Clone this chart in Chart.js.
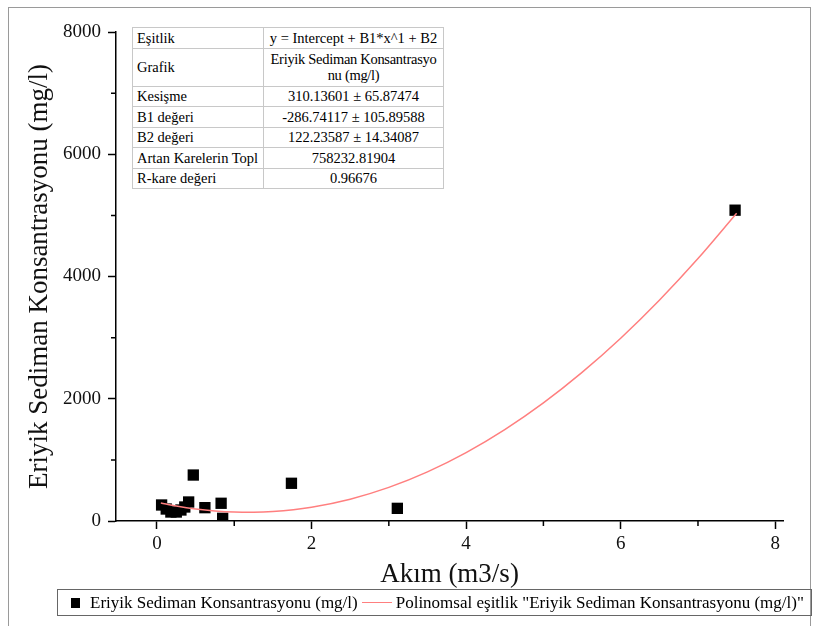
<!DOCTYPE html>
<html>
<head>
<meta charset="utf-8">
<script src="https://cdn.jsdelivr.net/npm/chart.js@4.4.1/dist/chart.umd.min.js"></script>
<style>
  html, body { margin: 0; padding: 0; background: #fff; }
  #wrap { position: relative; width: 814px; height: 626px; overflow: hidden; }
  #frame { position: absolute; left: 8px; top: 7px; width: 803px; height: 640px; border: 1px solid #9a9a9a; box-sizing: border-box; }
  #c { position: absolute; left: 0; top: 0; }
  #stats { position: absolute; left: 132px; top: 27px; border-collapse: collapse; border: 1px solid #8a8a8a;
    background: #fff; table-layout: fixed; width: 312px; }
  #stats td { font-family: "Times New Roman", "Liberation Serif", serif; font-size: 14.5px; color: #000;
    border: 1px solid #c8c8c8; padding: 0 4px; height: 19.5px; line-height: 16px; white-space: nowrap; }
  #stats td:first-child { width: 122px; text-align: left; }
  #stats td:last-child { text-align: center; }
  #legend { position: absolute; left: 57px; top: 589px; width: 755px; height: 27px; box-sizing: border-box;
    border: 1px solid #666; font-family: "Times New Roman", "Liberation Serif", serif; font-size: 17px; color: #000;
    display: flex; align-items: center; white-space: nowrap; }
  #legend .sq { display: inline-block; width: 9px; height: 10px; background: #000; margin: 0 10px 0 13px; }
  #legend .ln { display: inline-block; width: 30px; height: 0; border-top: 1.5px solid #ff7f7f; margin: 0 4px 0 4px; }
</style>
</head>
<body>
<div id="wrap">
  <div id="frame"></div>
  <canvas id="c" width="814" height="626"></canvas>
  <table id="stats">
    <tr><td>Eşitlik</td><td>y = Intercept + B1*x^1 + B2</td></tr>
    <tr><td style="height:37px">Grafik</td><td style="letter-spacing:-0.3px">Eriyik Sediman Konsantrasyo<br>nu (mg/l)</td></tr>
    <tr><td>Kesişme</td><td>310.13601 ± 65.87474</td></tr>
    <tr><td>B1 değeri</td><td>-286.74117 ± 105.89588</td></tr>
    <tr><td>B2 değeri</td><td>122.23587 ± 14.34087</td></tr>
    <tr><td>Artan Karelerin Topl</td><td>758232.81904</td></tr>
    <tr><td>R-kare değeri</td><td>0.96676</td></tr>
  </table>
  <div id="legend">
    <span class="sq"></span><span>Eriyik Sediman Konsantrasyonu (mg/l)</span><span class="ln"></span><span>Polinomsal eşitlik "Eriyik Sediman Konsantrasyonu (mg/l)"</span>
  </div>
</div>
<script>
// olculen noktalar
const flowX = [0.06, 0.12, 0.18, 0.25, 0.31, 0.36, 0.41, 0.47, 0.62, 0.83, 0.85, 1.74, 3.11, 7.48];
const sedimentY = [262, 196, 147, 147, 180, 229, 311, 752, 218, 290, 44, 617, 207, 5085];

// polinom egrisi
const fitX = [0.05, 0.25, 0.5, 0.75, 1, 1.25, 1.5, 2, 2.5, 3, 3.5, 4, 4.5, 5, 5.5, 6, 6.5, 7, 7.5];
const fitY = [296, 246, 197, 164, 146, 143, 155, 226, 357, 550, 804, 1119, 1495, 1932, 2431, 2990, 3611, 4293, 5035];

const xTicks = [0, 2, 4, 6, 8];
const xMinor = [1, 3, 5, 7];
const yTicks = [0, 2000, 4000, 6000, 8000];
const yMinor = [1000, 3000, 5000, 7000];

const points = flowX.map((x, i) => ({ x: x, y: sedimentY[i] }));
const curve = fitX.map((x, i) => ({ x: x, y: fitY[i] }));

const minorTicks = {
  id: 'minorTicks',
  afterDraw(chart) {
    const c = chart.ctx, xs = chart.scales.x, ys = chart.scales.y;
    c.save();
    c.strokeStyle = '#000';
    c.lineWidth = 1.5;
    c.beginPath();
    xMinor.forEach(v => { const p = xs.getPixelForValue(v); c.moveTo(p, xs.top); c.lineTo(p, xs.top + 5); });
    yMinor.forEach(v => { const p = ys.getPixelForValue(v); c.moveTo(ys.right, p); c.lineTo(ys.right - 5, p); });
    c.stroke();
    c.restore();
  }
};

const serif = '"Times New Roman", "Liberation Serif", serif';

new Chart(document.getElementById('c'), {
  type: 'scatter',
  data: {
    datasets: [
      {
        label: 'Polinomsal eşitlik "Eriyik Sediman Konsantrasyonu (mg/l)"',
        data: curve,
        showLine: true,
        borderColor: '#ff7f7f',
        borderWidth: 1.5,
        pointRadius: 0,
        cubicInterpolationMode: 'monotone'
      },
      {
        label: 'Eriyik Sediman Konsantrasyonu (mg/l)',
        data: points,
        pointStyle: 'rect',
        pointRadius: 8,
        backgroundColor: '#000',
        borderColor: '#000',
        borderWidth: 0
      }
    ]
  },
  options: {
    responsive: false,
    animation: false,
    layout: { padding: { left: 0, top: 32, right: 31, bottom: 35 } },
    plugins: { legend: { display: false }, tooltip: { enabled: false } },
    scales: {
      x: {
        type: 'linear',
        min: -0.53,
        max: 8.1,
        afterBuildTicks: s => { s.ticks = xTicks.map(v => ({ value: v })); },
        afterFit: s => { s.height = 70; },
        grid: { drawOnChartArea: false, tickLength: 8, tickWidth: 1.5, tickColor: '#000' },
        border: { color: '#000', width: 1.5 },
        ticks: { color: '#111', font: { family: serif, size: 19 }, padding: 4, callback: v => String(v) },
        title: { display: true, text: 'Akım (m3/s)', color: '#111', font: { family: serif, size: 27 }, padding: { top: 0, bottom: 0 } }
      },
      y: {
        min: 0,
        max: 8000,
        afterBuildTicks: s => { s.ticks = yTicks.map(v => ({ value: v })); },
        afterFit: s => { s.width = 116; },
        grid: { drawOnChartArea: false, tickLength: 8, tickWidth: 1.5, tickColor: '#000' },
        border: { color: '#000', width: 1.5 },
        ticks: { color: '#111', font: { family: serif, size: 19 }, padding: 7, callback: v => String(v) },
        title: { display: true, text: 'Eriyik Sediman Konsantrasyonu (mg/l)', color: '#111', font: { family: serif, size: 27 }, padding: { top: 24, bottom: 0 } }
      }
    }
  },
  plugins: [minorTicks]
});
</script>
</body>
</html>
